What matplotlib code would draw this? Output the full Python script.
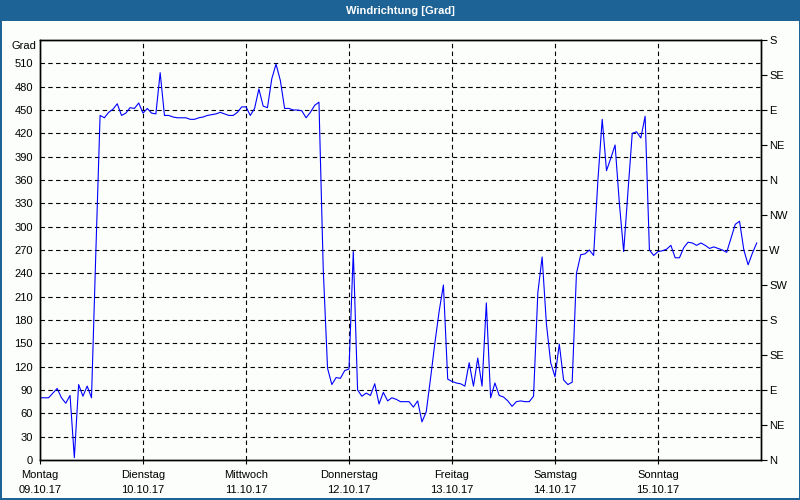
import matplotlib
matplotlib.use('Agg')
import matplotlib.pyplot as plt
import numpy as np
from matplotlib.patches import Rectangle

plt.rcParams['font.family'] = ['Liberation Sans', 'DejaVu Sans']

title = "Windrichtung [Grad]"
y_axis_label = "Grad"
day_labels = ["Montag\n09.10.17", "Dienstag\n10.10.17", "Mittwoch\n11.10.17",
              "Donnerstag\n12.10.17", "Freitag\n13.10.17", "Samstag\n14.10.17",
              "Sonntag\n15.10.17"]
left_ticks = list(range(0, 511, 30))
right_ticks = list(range(0, 541, 45))
right_labels = ["N", "NE", "E", "SE", "S", "SW", "W", "NW", "N", "NE", "E", "SE", "S"]

# hourly wind direction in degrees (Mon 00:00 .. Sun 23:00)
direction = [
    80, 80, 80, 86, 92, 80, 73, 83, 3, 97, 82, 95, 80, 265, 443, 440, 447, 451, 458, 443, 446, 453, 452, 459,
    446, 452, 446, 445, 498, 443, 443, 441, 440, 440, 440, 438, 438, 440, 441, 443, 444, 445, 447, 445, 443, 443, 447, 454,
    454, 443, 452, 477, 455, 453, 490, 509, 488, 452, 452, 450, 450, 449, 440, 447, 456, 460, 245, 118, 97, 106, 105, 115,
    117, 268, 90, 82, 86, 83, 98, 72, 87, 76, 80, 78, 75, 75, 75, 68, 76, 49, 62, 105, 150, 191, 225, 104,
    101, 99, 98, 95, 125, 95, 131, 95, 202, 80, 99, 83, 81, 76, 69, 75, 76, 75, 75, 82, 215, 261, 175, 125,
    107, 149, 103, 97, 100, 240, 264, 265, 270, 263, 360, 438, 372, 388, 405, 330, 268, 345, 420, 422, 414, 442, 270, 263,
    268, 269, 271, 276, 260, 260, 273, 280, 279, 276, 279, 276, 272, 274, 272, 270, 267, 285, 303, 307, 270, 251, 266, 279,
]
days = np.arange(len(direction)) / 24.0

W, H = 800, 500
bar_color = '#1e6396'
bg = '#fcfefc'
fs = 8

fig = plt.figure(figsize=(8, 5), dpi=100)
fig.patch.set_facecolor(bg)
# title bar and window frame
fig.patches.append(Rectangle((0, 1 - 21 / H), 1, 21 / H, transform=fig.transFigure,
                             facecolor=bar_color, edgecolor='none', zorder=0))
fig.patches.append(Rectangle((0, 0), 1.5 / W, 1, transform=fig.transFigure,
                             facecolor=bar_color, edgecolor='none', zorder=0))
fig.patches.append(Rectangle((1 - 1.5 / W, 0), 1.5 / W, 1, transform=fig.transFigure,
                             facecolor=bar_color, edgecolor='none', zorder=0))
fig.patches.append(Rectangle((0, 0), 1, 2 / H, transform=fig.transFigure,
                             facecolor=bar_color, edgecolor='none', zorder=0))
fig.text(0.5, 1 - 10.5 / H, title, color='white', fontsize=fs, fontweight='bold',
         ha='center', va='center')

ax = fig.add_axes([40 / W, 40 / H, 721 / W, 420 / H])
ax.set_facecolor(bg)
ax.set_xlim(0, 7)
ax.set_ylim(0, 540)

ax.plot(days, direction, color='#0000ff', lw=0.8, zorder=3)

dash = (0, (4, 3))
for v in left_ticks[1:]:
    ax.axhline(v, color='black', lw=0.8, ls=dash, zorder=1)
for d in range(1, 7):
    ax.axvline(d, color='black', lw=0.8, ls=dash, zorder=1)

ax.set_yticks(left_ticks)
ax.set_yticklabels([str(v) for v in left_ticks])
ax.set_xticks(range(7))
ax.set_xticklabels(day_labels, linespacing=1.6)
ax.tick_params(axis='y', length=0, pad=5, labelsize=fs)
ax.tick_params(axis='x', length=3, width=0.8, direction='out', pad=4, labelsize=fs)
for s in ax.spines.values():
    s.set_color('black')
    s.set_linewidth(1.0)

ax.annotate(y_axis_label, xy=(0, 1), xycoords='axes fraction', xytext=(-4, -6),
            textcoords='offset pixels', ha='right', va='center', fontsize=fs)

ax2 = ax.twinx()
ax2.set_ylim(0, 540)
ax2.set_yticks(right_ticks)
ax2.set_yticklabels(right_labels)
ax2.tick_params(axis='y', length=4, width=0.8, direction='out', pad=2, labelsize=fs)
for s in ax2.spines.values():
    s.set_color('black')
    s.set_linewidth(1.0)

fig.savefig('out.png', dpi=100, facecolor=fig.get_facecolor())
